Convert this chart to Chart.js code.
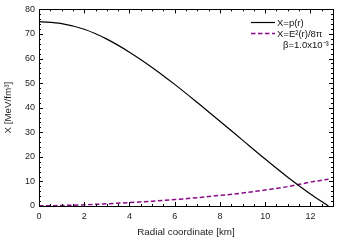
<!DOCTYPE html>
<html>
<head>
<meta charset="utf-8">
<script src="https://cdn.jsdelivr.net/npm/chart.js@4"></script>
<style>
  html, body { margin: 0; padding: 0; background: #fff; }
  #wrap { width: 339px; height: 240px; }
</style>
</head>
<body>
<div id="wrap"><canvas id="chart"></canvas></div>
<script>
// values
const radius = [0, 1, 2, 3, 4, 5, 6, 7, 8, 9, 10, 11, 12, 12.8];
const pressure = [75.0, 74.2, 71.9, 67.9, 62.6, 56.4, 49.5, 42.1, 34.5, 26.8, 19.1, 11.7, 4.9, 0.0];
const fieldEnergy = [0.1, 0.2, 0.5, 0.9, 1.4, 1.95, 2.6, 3.4, 4.3, 5.3, 6.5, 7.9, 9.7, 10.9];
const seriesNames = ["X=p(r)", "X=E\u00b2(r)/8\u03c0"];
const betaNote = "\u03b2=1.0x10\u207b\u00b3";

const FONT = "'Liberation Sans', Arial, sans-serif";
const PURPLE = "#8a0a8a";

// inward ticks on all four sides + frame
const frameTicks = {
  id: "frameTicks",
  afterDatasetsDraw(chart) {
    const { ctx, chartArea: a, scales } = chart;
    const xs = scales.x, ys = scales.y;
    ctx.save();
    ctx.strokeStyle = "#000";
    ctx.lineWidth = 1;
    ctx.beginPath();
    for (let v = 0; v <= 13.001; v += 0.5) {
      const px = Math.round(xs.getPixelForValue(v)) + 0.5;
      const len = Math.abs(v % 2) < 1e-6 ? 4 : 2;
      ctx.moveTo(px, a.bottom); ctx.lineTo(px, a.bottom - len);
      ctx.moveTo(px, a.top); ctx.lineTo(px, a.top + len);
    }
    for (let v = 0; v <= 80; v += 2) {
      const py = Math.round(ys.getPixelForValue(v)) + 0.5;
      const len = v % 10 === 0 ? 4 : 2;
      ctx.moveTo(a.left, py); ctx.lineTo(a.left + len, py);
      ctx.moveTo(a.right, py); ctx.lineTo(a.right - len, py);
    }
    ctx.stroke();
    ctx.strokeRect(Math.round(a.left) + 0.5, Math.round(a.top) + 0.5,
      Math.round(a.right - a.left), Math.round(a.bottom - a.top));
    ctx.restore();
  }
};

// legend box in the upper right corner
const cornerLegend = {
  id: "cornerLegend",
  afterDraw(chart) {
    const { ctx } = chart;
    ctx.save();
    ctx.font = "9.5px " + FONT;
    ctx.fillStyle = "#111";
    ctx.textBaseline = "middle";
    ctx.textAlign = "left";
    // row 1
    ctx.strokeStyle = "#000";
    ctx.lineWidth = 1.2;
    ctx.beginPath(); ctx.moveTo(251, 22.5); ctx.lineTo(275, 22.5); ctx.stroke();
    ctx.fillText(seriesNames[0], 277, 23);
    // row 2
    ctx.strokeStyle = PURPLE;
    ctx.lineWidth = 1.5;
    ctx.setLineDash([4.5, 2.5]);
    ctx.beginPath(); ctx.moveTo(251, 33.5); ctx.lineTo(275, 33.5); ctx.stroke();
    ctx.setLineDash([]);
    ctx.fillText(seriesNames[1], 277, 34);
    // row 3
    ctx.fillText(betaNote, 283, 45);
    ctx.restore();
  }
};

new Chart(document.getElementById("chart"), {
  type: "line",
  data: {
    datasets: [
      {
        label: seriesNames[0],
        data: radius.map((r, i) => ({ x: r, y: pressure[i] })),
        borderColor: "#000",
        borderWidth: 1.2,
        pointRadius: 0,
        cubicInterpolationMode: "monotone",
        fill: false,
      },
      {
        label: seriesNames[1],
        data: radius.map((r, i) => ({ x: r, y: fieldEnergy[i] })),
        borderColor: PURPLE,
        borderWidth: 1.5,
        borderDash: [4.5, 2.5],
        pointRadius: 0,
        cubicInterpolationMode: "monotone",
        fill: false,
      },
    ],
  },
  options: {
    responsive: true,
    maintainAspectRatio: false,
    animation: false,
    layout: { padding: { top: 8, right: 6, left: 0, bottom: 0 } },
    plugins: { legend: { display: false }, tooltip: { enabled: false } },
    scales: {
      x: {
        type: "linear",
        min: 0,
        max: 13,
        grid: { display: false, drawTicks: false },
        border: { display: false },
        ticks: { stepSize: 2, includeBounds: false, padding: 5, color: "#222", font: { family: FONT, size: 9 } },
        title: { display: true, text: "Radial coordinate [km]", color: "#222", padding: { top: 0, bottom: 2 }, font: { family: FONT, size: 9.8 } },
        afterFit: (s) => { s.height = 34; },
      },
      y: {
        min: 0,
        max: 80,
        grid: { display: false, drawTicks: false },
        border: { display: false },
        ticks: { stepSize: 10, padding: 4, color: "#222", font: { family: FONT, size: 9 } },
        title: { display: true, text: "X [MeV/fm\u00b3]", color: "#222", padding: { top: 2, bottom: 0 }, font: { family: FONT, size: 9.8 } },
        afterFit: (s) => { s.width = 39; },
      },
    },
  },
  plugins: [frameTicks, cornerLegend],
});
</script>
</body>
</html>
